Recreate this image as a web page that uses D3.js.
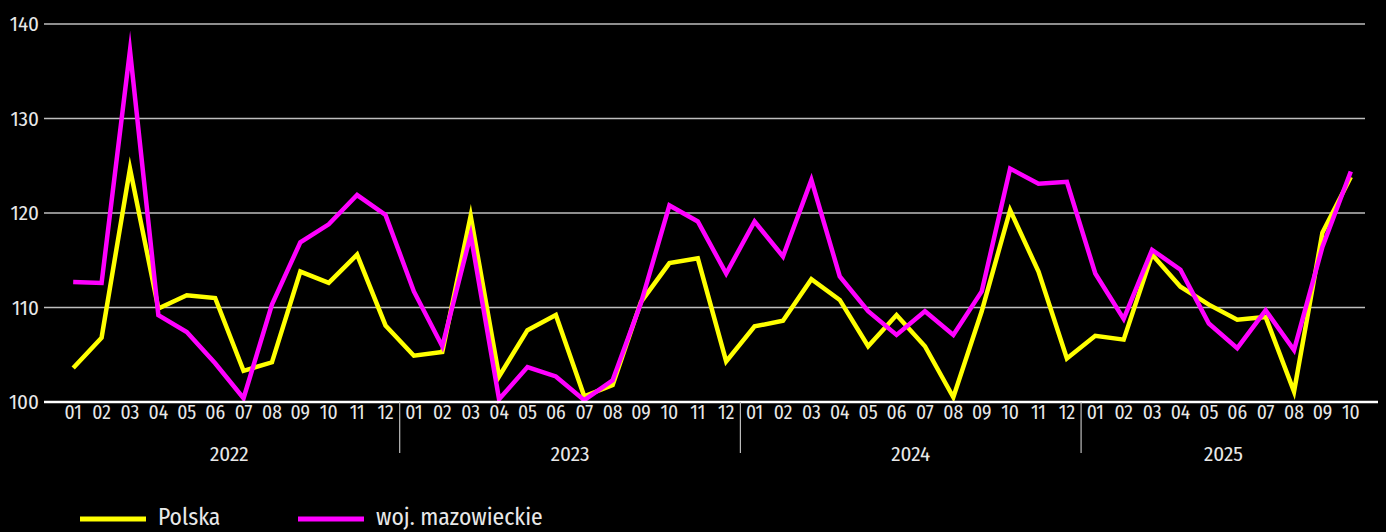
<!DOCTYPE html>
<html>
<head>
<meta charset="utf-8">
<script src="https://cdn.jsdelivr.net/npm/d3@7/dist/d3.min.js"></script>
<style>
  html, body { margin: 0; padding: 0; background: #000; }
  svg { display: block; }
  text { font-family: "Fira Sans Condensed", "Roboto Condensed", "DejaVu Sans Condensed", Roboto, sans-serif; fill: #e8e8e8; }
</style>
</head>
<body>
<svg id="chart"></svg>
<script>
// dane
const years = ['2022', '2023', '2024', '2025']
const months = ['01', '02', '03', '04', '05', '06', '07', '08', '09', '10', '11', '12']
const yTicks = [100, 110, 120, 130, 140]
const seriesNames = ['Polska', 'woj. mazowieckie']
const polska = [
  103.6, 106.8, 124.7, 109.9, 111.3, 111.0, 103.3, 104.2, 113.8, 112.6, 115.6, 108.1,
  104.9, 105.3, 119.7, 102.7, 107.6, 109.2, 100.6, 101.8, 110.6, 114.7, 115.2, 104.3,
  108.0, 108.6, 113.0, 110.8, 105.9, 109.2, 105.9, 100.5, 109.6, 120.3, 113.8, 104.6,
  107.0, 106.6, 115.6, 112.2, 110.3, 108.7, 109.0, 101.1, 117.9, 123.8
]
const mazowieckie = [
  112.7, 112.6, 137.2, 109.2, 107.4, 104.1, 100.4, 110.3, 116.9, 118.8, 121.9, 119.8,
  111.7, 105.9, 117.7, 100.3, 103.7, 102.7, 100.2, 102.3, 110.5, 120.8, 119.1, 113.6,
  119.1, 115.4, 123.5, 113.3, 109.6, 107.1, 109.6, 107.1, 111.7, 124.7, 123.1, 123.3,
  113.6, 108.8, 116.1, 114.0, 108.3, 105.7, 109.7, 105.5, 116.4, 124.4
]
const colors = ['#ffff00', '#ff00ff']

const width = 1386
const height = 532
const gridLeft = 44
const gridRight = 1365
const plotLeft = 59
const plotTop = 24
const plotBottom = 402

// kategorie rok-miesiac
const cats = []
years.forEach(y => months.forEach(m => cats.push({ year: y, month: m })))
const data = cats.slice(0, polska.length).map((c, i) => ({
  key: c.year + '-' + c.month,
  year: c.year,
  month: c.month,
  polska: polska[i],
  maz: mazowieckie[i]
}))

const svg = d3.select('#chart').attr('width', width).attr('height', height)

const x = d3.scaleBand()
  .domain(data.map(d => d.key))
  .range([plotLeft, gridRight])
  .padding(0)
const y = d3.scaleLinear()
  .domain([100, 140])
  .range([plotBottom, plotTop])

// siatka
const grid = svg.append('g').attr('class', 'grid')
grid.selectAll('line').data(yTicks.filter(t => t !== 100)).enter().append('line')
  .attr('x1', gridLeft)
  .attr('x2', gridRight)
  .attr('y1', d => y(d))
  .attr('y2', d => y(d))
  .attr('stroke', '#bebebe')
  .attr('stroke-width', 1.5)

// os Y
const yAxis = d3.axisLeft(y).tickValues(yTicks).tickSize(0).tickPadding(5)
const yAxisG = svg.append('g').attr('class', 'y-axis')
  .attr('transform', `translate(${gridLeft},0)`)
  .call(yAxis)
yAxisG.select('.domain').remove()
yAxisG.selectAll('text')
  .attr('font-size', 21)
  .attr('font-family', null)
  .style('fill', '#e8e8e8')

// linie serii
const series = [
  { name: seriesNames[0], values: data.map(d => d.polska), color: colors[0] },
  { name: seriesNames[1], values: data.map(d => d.maz), color: colors[1] }
]
const line = d3.line()
  .x((d, i) => x(data[i].key) + x.bandwidth() / 2)
  .y(d => y(d))
svg.append('g').attr('class', 'lines')
  .selectAll('path').data(series).enter().append('path')
  .attr('d', d => line(d.values))
  .attr('fill', 'none')
  .attr('stroke', d => d.color)
  .attr('stroke-width', 4.5)
  .attr('stroke-linejoin', 'miter')
  .attr('stroke-miterlimit', 10)

// os X - linia bazowa
svg.append('line')
  .attr('x1', gridLeft)
  .attr('x2', 1378)
  .attr('y1', y(100))
  .attr('y2', y(100))
  .attr('stroke', '#ffffff')
  .attr('stroke-width', 2.5)

// miesiace
const xAxisG = svg.append('g').attr('class', 'x-axis')
xAxisG.selectAll('text.month').data(data).enter().append('text')
  .attr('class', 'month')
  .attr('x', d => x(d.key) + x.bandwidth() / 2)
  .attr('y', 419)
  .attr('text-anchor', 'middle')
  .attr('font-size', 19.5)
  .text(d => d.month)

// separatory lat i etykiety
const yearGroups = years.map(yr => {
  const items = data.filter(d => d.year === yr)
  return {
    year: yr,
    start: x(items[0].key),
    end: x(items[items.length - 1].key) + x.bandwidth(),
    full: x(items[0].key) + 12 * x.bandwidth()
  }
})
xAxisG.selectAll('line.sep').data(yearGroups.slice(1)).enter().append('line')
  .attr('class', 'sep')
  .attr('x1', d => d.start)
  .attr('x2', d => d.start)
  .attr('y1', y(100))
  .attr('y2', 453)
  .attr('stroke', '#bdbdbd')
  .attr('stroke-width', 1.2)
xAxisG.selectAll('text.year').data(yearGroups).enter().append('text')
  .attr('class', 'year')
  .attr('x', d => (d.start + Math.min(d.full, gridRight + 1)) / 2)
  .attr('y', 461)
  .attr('text-anchor', 'middle')
  .attr('font-size', 21)
  .text(d => d.year)

// legenda
const legendX = [80, 298]
const legend = svg.append('g').attr('class', 'legend')
const item = legend.selectAll('g').data(series).enter().append('g')
  .attr('transform', (d, i) => `translate(${legendX[i]},519)`)
item.append('line')
  .attr('x1', 0)
  .attr('x2', 66)
  .attr('stroke', d => d.color)
  .attr('stroke-width', 5)
item.append('text')
  .attr('x', 78)
  .attr('y', 6)
  .attr('font-size', 23.5)
  .text(d => d.name)
</script>
</body>
</html>
